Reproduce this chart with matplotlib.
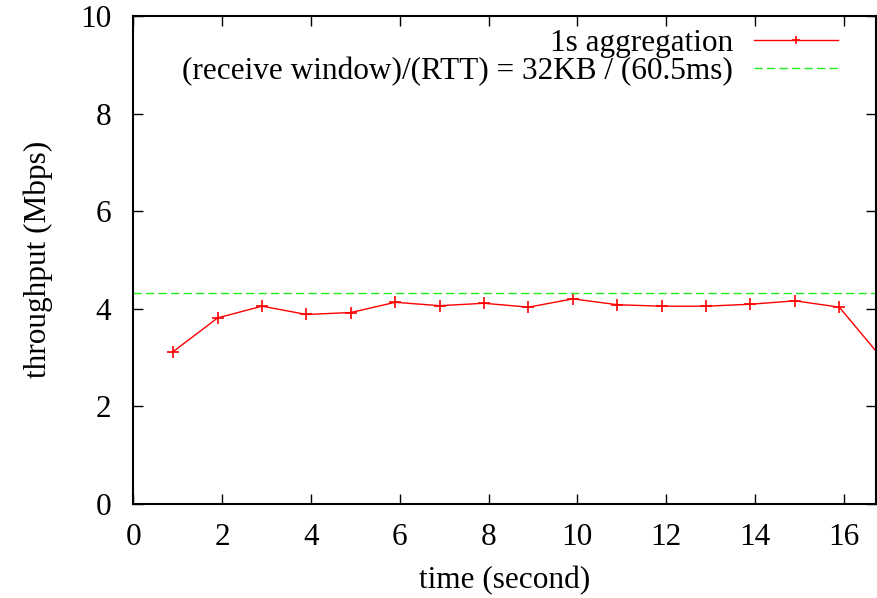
import numpy as np
import matplotlib
matplotlib.use('Agg')
import matplotlib.pyplot as plt

# throughput per 1s bucket
time_s = [0.9, 1.9, 2.9, 3.9, 4.9, 5.9, 6.9, 7.9, 8.9, 9.9,
          10.9, 11.9, 12.9, 13.9, 14.9, 15.9, 16.9]
throughput = [3.12, 3.81, 4.05, 3.88, 3.92, 4.13, 4.06, 4.11, 4.03, 4.20,
              4.08, 4.05, 4.05, 4.09, 4.16, 4.03, 2.94]
window_rate = 4.33  # 32KB / 60.5ms in Mbps

plt.rcParams['font.family'] = ['Liberation Serif', 'DejaVu Serif']
plt.rcParams['font.size'] = 22.5

fig = plt.figure(figsize=(8.78, 5.98), dpi=100)
ax = fig.add_axes([0.1518, 0.1577, 0.8456, 0.8155])

ax.plot(time_s, throughput, color='#ff0000', lw=1.0, marker='+', ms=9,
        mew=1.2, label='1s aggregation')
ax.axhline(window_rate, color='#22ee22', lw=1.0, ls=(0, (6, 3)),
           label='(receive window)/(RTT) = 32KB / (60.5ms)')

ax.set_xlim(0, 16.72)
ax.set_ylim(0, 10)
ax.set_xticks(np.arange(0, 17, 2))
ax.set_yticks(np.arange(0, 11, 2))
ax.tick_params(direction='in', length=7, width=1, top=True, right=True)
ax.tick_params(axis='y', pad=16)
ax.tick_params(axis='x', pad=14)
for s in ax.spines.values():
    s.set_linewidth(1.5)

ax.set_xlabel('time (second)', labelpad=10)
ax.set_ylabel('throughput (Mbps)', labelpad=19)

ax.legend(loc='upper right', frameon=False, markerfirst=False,
          handlelength=2.7, handletextpad=0.65, borderaxespad=0.0,
          labelspacing=-0.03, markerscale=0.6,
          bbox_to_anchor=(0.966, 1.0))

fig.savefig('out.png', dpi=100)
